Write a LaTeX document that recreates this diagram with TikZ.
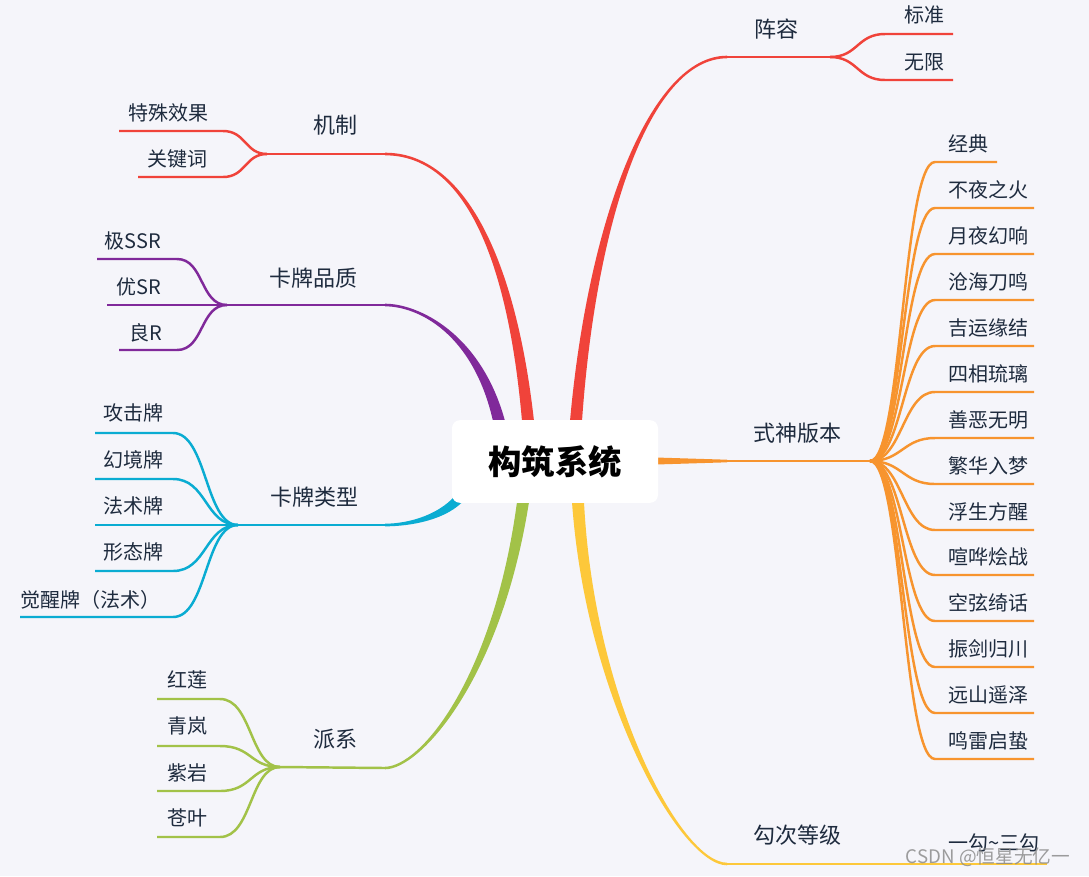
\documentclass[tikz,border=0pt]{standalone}
\usepackage{fontspec}
\setmainfont{Noto Sans CJK SC}
\usetikzlibrary{calc}
\definecolor{bg}{HTML}{F5F5FA}
\definecolor{cred}{HTML}{F0433A}
\definecolor{cpurple}{HTML}{80299A}
\definecolor{ccyan}{HTML}{0AACD2}
\definecolor{cgreen}{HTML}{A2C248}
\definecolor{corange}{HTML}{F7942E}
\definecolor{cyellow}{HTML}{FDC83A}
\definecolor{ctext}{HTML}{1E2B3E}
\newcommand{\taperbranch}[6]{%
  \fill[#1] ($(#2)+(-6,0)$) .. controls ($(#3)+(-4,0)$) and ($(#4)+(0,{-1.4*(#6)})$) .. ($(#5)+(0,{-1.3*(#6)})$)
    -- ($(#5)+(0,{1.3*(#6)})$) .. controls ($(#4)+(0,{1.4*(#6)})$) and ($(#3)+(4,0)$) .. ($(#2)+(6,0)$) -- cycle;}
\tikzset{
  ln/.style={line width=1.85pt},
  leaf/.style={text=ctext, font=\fontsize{15}{18}\selectfont, inner sep=0pt},
  topic/.style={text=ctext, font=\fontsize{16.5}{20}\selectfont, inner sep=0pt},
}
\begin{document}
\begin{tikzpicture}[x=0.75pt,y=-0.75pt]
\fill[bg] (0,0) rectangle (1089,876);
\useasboundingbox (0,0) rectangle (1089,876);

% ---------- anchor coordinates of main branches
\coordinate (zrS) at (576,421);  \coordinate (zrE) at (727,57);
\coordinate (jzS) at (528,421);  \coordinate (jzE) at (385,154);
\coordinate (kpS) at (499,421);  \coordinate (kpE) at (385,305);
\coordinate (klS) at (462,495);  \coordinate (klE) at (385,525);
\coordinate (pxS) at (523,502);  \coordinate (pxE) at (385,768);
\coordinate (gcS) at (578,502);  \coordinate (gcE) at (727,864);
\coordinate (ssS) at (656,461);  \coordinate (ssE) at (727,461);

% ---------- tapered main branches
\taperbranch{cred}{zrS}{592,220}{650,57}{zrE}{1}
\taperbranch{cred}{jzS}{512,260}{465,154}{jzE}{-1}
\taperbranch{cpurple}{kpS}{477,333}{418,305}{kpE}{-1}
\taperbranch{cgreen}{pxS}{497,680}{420,768}{pxE}{1}
\taperbranch{cyellow}{gcS}{590,700}{681,864}{gcE}{-1}
\fill[ccyan] ($(klS)+(-3.5,-3.5)$) .. controls (442,514) and (410,523.6) .. ($(klE)+(0,-1.3)$)
  -- ($(klE)+(0,1.3)$) .. controls (410,526.4) and (448,520) .. ($(klS)+(3.5,3.5)$) -- cycle;
\fill[corange] ($(ssS)+(0,-3.5)$) -- ($(ssE)+(0,-1.3)$) -- ($(ssE)+(0,1.3)$) -- ($(ssS)+(0,3.5)$) -- cycle;

% ---------- centre node
\node[fill=white, rounded corners=6pt, minimum width=154.5pt, minimum height=62pt, inner sep=0pt,
      font=\bfseries\fontsize{25}{30}\selectfont, text=black] (root) at (555,461.5) {构筑系统};

% ---------- 阵容
\coordinate (zrF) at (830,57);
\coordinate (bzE) at (953,34); \coordinate (wxE) at (953,80);
\draw[ln, cred] (zrE) -- (zrF);
\draw[ln, cred] (zrF) .. controls (858,57) and (857,34) .. (885,34) -- (bzE);
\draw[ln, cred] (zrF) .. controls (858,57) and (857,80) .. (885,80) -- (wxE);
\node[topic] (zr) at (776,29) {阵容};
\node[leaf] (bz) at (924,15) {标准};
\node[leaf] (wx) at (924,62) {无限};

% ---------- 机制
\coordinate (jzF) at (267,154);
\coordinate (tsE) at (119,131); \coordinate (gjE) at (138,177);
\draw[ln, cred] (jzE) -- (jzF);
\draw[ln, cred] (jzF) .. controls (245,154) and (246,131) .. (223,131) -- (tsE);
\draw[ln, cred] (jzF) .. controls (245,154) and (246,177) .. (223,177) -- (gjE);
\node[topic] (jz) at (335,125) {机制};
\node[leaf] (ts) at (168,113) {特殊效果};
\node[leaf] (gj) at (177,159) {关键词};

% ---------- 卡牌品质
\coordinate (kpF) at (227,305);
\coordinate (ssrE) at (97,259); \coordinate (srE) at (107,305); \coordinate (rE) at (119,350);
\draw[ln, cpurple] (kpE) -- (kpF) -- (srE);
\draw[ln, cpurple] (kpF) .. controls (200,305) and (204,259) .. (177,259) -- (ssrE);
\draw[ln, cpurple] (kpF) .. controls (200,305) and (204,350) .. (177,350) -- (rE);
\node[topic] (kp) at (313,278) {卡牌品质};
\node[leaf] (ssr) at (133,241) {极SSR};
\node[leaf] (sr) at (139,287) {优SR};
\node[leaf] (r) at (146,333) {良R};

% ---------- 卡牌类型
\coordinate (klF) at (238,525);
\coordinate (gjpE) at (95,433); \coordinate (hjpE) at (95,479); \coordinate (fspE) at (95,525);
\coordinate (xtpE) at (95,571); \coordinate (jxpE) at (20,617);
\draw[ln, ccyan] (klE) -- (klF) -- (fspE);
\draw[ln, ccyan] (klF) .. controls (205,525) and (207,433) .. (173,433) -- (gjpE);
\draw[ln, ccyan] (klF) .. controls (205,525) and (207,479) .. (173,479) -- (hjpE);
\draw[ln, ccyan] (klF) .. controls (205,525) and (207,571) .. (173,571) -- (xtpE);
\draw[ln, ccyan] (klF) .. controls (205,525) and (207,617) .. (173,617) -- (jxpE);
\node[topic] (kl) at (314,497) {卡牌类型};
\node[leaf] (gjp) at (133,413) {攻击牌};
\node[leaf] (hjp) at (133,460) {幻境牌};
\node[leaf] (fsp) at (133,506) {法术牌};
\node[leaf] (xtp) at (133,552) {形态牌};
\node[leaf] (jxp) at (90,600) {觉醒牌（法术）};

% ---------- 派系
\coordinate (pxF) at (280,767);
\coordinate (hlE) at (157,699); \coordinate (qlE) at (157,746);
\coordinate (zyE) at (157,791); \coordinate (cyE) at (157,837);
\draw[ln, cgreen] (pxE) -- (pxF);
\draw[ln, cgreen] (pxF) .. controls (250,767) and (252,699) .. (220,699) -- (hlE);
\draw[ln, cgreen] (pxF) .. controls (250,767) and (252,746) .. (220,746) -- (qlE);
\draw[ln, cgreen] (pxF) .. controls (250,767) and (252,791) .. (220,791) -- (zyE);
\draw[ln, cgreen] (pxF) .. controls (250,767) and (252,837) .. (220,837) -- (cyE);
\node[topic] (px) at (335,739) {派系};
\node[leaf] (hl) at (187,680) {红莲};
\node[leaf] (ql) at (187,726) {青岚};
\node[leaf] (zy) at (187,773) {紫岩};
\node[leaf] (cy) at (187,818) {苍叶};

% ---------- 式神版本
\coordinate (ssF) at (870,461);
\draw[ln, corange] (ssE) -- (ssF);
\foreach \yy/\t/\xe in {162/经典/997, 208/不夜之火/1034, 254/月夜幻响/1034, 300/沧海刀鸣/1034,
   346/吉运缘结/1034, 392/四相琉璃/1034, 438/善恶无明/1034, 484/繁华入梦/1034, 530/浮生方醒/1034,
   575/喧哗烩战/1034, 621/空弦绮话/1034, 667/振剑归川/1034, 713/远山遥泽/1034, 759/鸣雷启蛰/1034}{
  \coordinate (v\yy) at (\xe,\yy);
  \draw[ln, corange] (ssF) .. controls (902,461) and (903,\yy) .. (935,\yy) -- (v\yy);
  \node[leaf, anchor=west] (t\yy) at (948,{\yy-18}) {\t};
}
\node[topic] (ss) at (797,433) {式神版本};

% ---------- 勾次等级
\coordinate (gcL) at (1047,864);
\draw[ln, cyellow] (gcE) -- (gcL);
\node[topic] (gc) at (797,835) {勾次等级};
\node[leaf, anchor=west] (gc1) at (948,843) {一勾\textasciitilde 三勾};

% ---------- watermark
\node[text=black!45, opacity=0.85, inner sep=0pt, font=\fontsize{14}{16}\selectfont] (wm) at (988,857) {CSDN @恒星无亿一};
\end{tikzpicture}
\end{document}
